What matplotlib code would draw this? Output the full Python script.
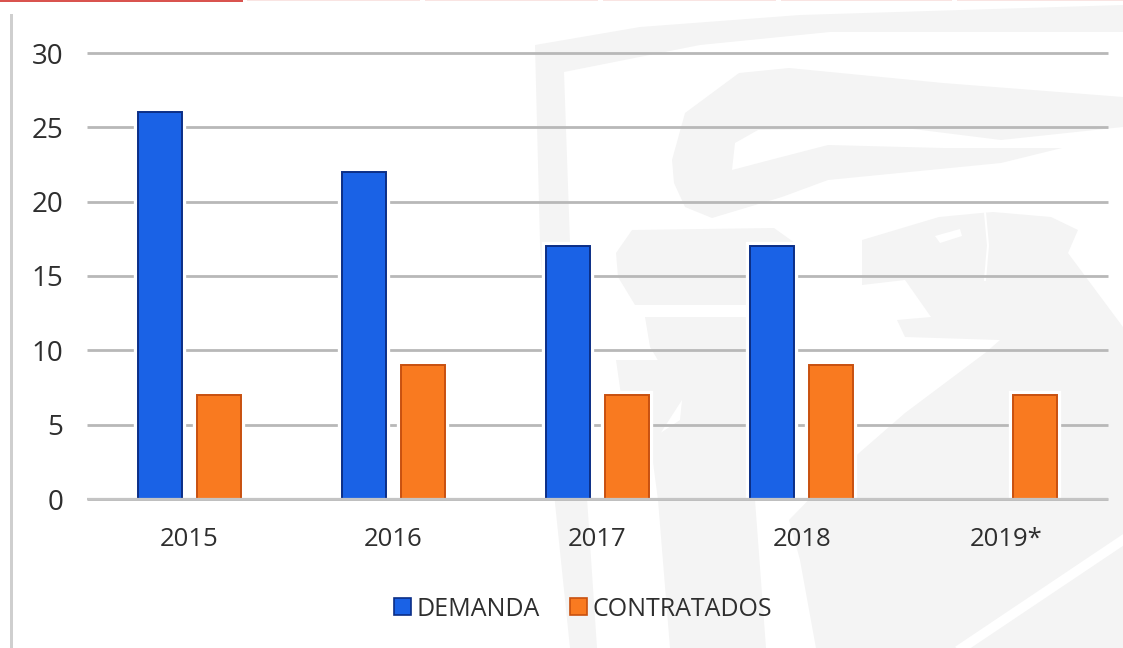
import matplotlib
matplotlib.use("Agg")
import matplotlib.pyplot as plt
import matplotlib.patheffects as pe
from matplotlib.patches import Polygon, Rectangle
import numpy as np

plt.rcParams['font.family'] = ['Open Sans', 'DejaVu Sans']

categories = ['2015', '2016', '2017', '2018', '2019*']
demanda = [26, 22, 17, 17, None]
contratados = [7, 9, 7, 9, 7]
y_ticks = [0, 5, 10, 15, 20, 25, 30]

W, H = 1123, 648
fig = plt.figure(figsize=(W / 100, H / 100), dpi=100, facecolor='white')

# page decoration (faint crest, header rule, side rule), in pixel coordinates
bg = fig.add_axes([0, 0, 1, 1], zorder=0)
bg.set_xlim(0, W)
bg.set_ylim(H, 0)
bg.axis('off')
wm = '#f4f4f4'
shapes = [
    # shield band and left stripe
    [(535, 45), (640, 27), (800, 15), (1123, 5), (1123, 32), (830, 32), (700, 45), (564, 72),
     (570, 243), (597, 648), (570, 648), (555, 503), (540, 243)],
    # wing
    [(672, 160), (685, 113), (739, 73), (789, 68), (943, 83), (1123, 97), (1123, 127), (1001, 140),
     (905, 128), (758, 130), (735, 143), (732, 170), (770, 160), (828, 145), (943, 148), (1062, 148),
     (1001, 163), (828, 180), (782, 197), (712, 218), (685, 207), (674, 183)],
    # central block
    [(616, 253), (632, 230), (774, 228), (795, 243), (795, 305), (635, 305), (618, 277)],
    [(645, 317), (795, 317), (755, 500), (766, 648), (670, 648), (658, 500), (650, 440), (680, 420),
     (682, 400), (650, 347)],
    [(616, 360), (680, 360), (682, 400), (640, 465), (626, 430)],
    # head
    [(862, 240), (939, 217), (981, 213), (993, 212), (1051, 217), (1078, 230), (1068, 253), (1123, 327),
     (1123, 648), (816, 648), (800, 560), (789, 520), (828, 480), (905, 413), (985, 353), (1000, 340),
     (905, 337), (897, 320), (931, 317), (905, 280), (862, 285)],
]
for s in shapes:
    bg.add_patch(Polygon(s, closed=True, fc=wm, ec='none'))
bg.add_patch(Polygon([(935, 236), (960, 229), (962, 236), (940, 243)], closed=True, fc='white', ec='none'))
bg.plot([1123, 962], [540, 648], color='white', lw=7)
bg.plot([985, 988, 985], [213, 245, 280], color='white', lw=1.5)
bg.add_patch(Rectangle((0, 0), 243, 1.7, fc='#d9534f', ec='none'))
for x0, x1 in [(247, 420), (425, 598), (603, 776), (781, 952), (957, 1123)]:
    bg.add_patch(Rectangle((x0, 0), x1 - x0, 1, fc='#f9e4e2', ec='none'))
bg.add_patch(Rectangle((10, 14), 3, H - 14, fc='#cfcfcf', ec='none'))

# chart
left, right, top, bottom = 87, 1108, 53, 499
ax = fig.add_axes([left / W, 1 - bottom / H, (right - left) / W, (bottom - top) / H], zorder=1)
ax.patch.set_alpha(0)
x = np.arange(len(categories))
bw, off = 0.215, 0.1445
dem = [np.nan if v is None else v for v in demanda]
halo = [pe.withStroke(linewidth=6, foreground='white')]
b1 = ax.bar(x - off, dem, bw, color='#1a62e6', edgecolor='#0b2e86', linewidth=1.4, label='DEMANDA', zorder=3)
b2 = ax.bar(x + off, contratados, bw, color='#f97a20', edgecolor='#c8500f', linewidth=1.4, label='CONTRATADOS', zorder=3)
for p in list(b1) + list(b2):
    p.set_path_effects(halo)

ax.set_xlim(-0.5, 4.5)
ax.set_ylim(0, 30)
ax.set_yticks(y_ticks)
ax.set_xticks(x, categories)
ax.grid(axis='y', color='#b8b8b8', linewidth=2.0, zorder=1)
ax.set_axisbelow(True)
ax.axhline(0, color='#c4c4c4', linewidth=1.6, zorder=4, clip_on=False, solid_capstyle='butt')
for sp in ax.spines.values():
    sp.set_visible(False)
ax.tick_params(axis='y', length=0, labelsize=20, labelcolor='#2e2e2e', pad=17)
ax.tick_params(axis='x', length=0, labelsize=18.5, labelcolor='#2e2e2e', pad=20.5)
for t in ax.get_ygridlines():
    t.set_clip_on(False)
    t.set_solid_capstyle('butt')

leg = ax.legend(loc='center', bbox_to_anchor=((583 - left) / (right - left), (bottom - 609) / (bottom - top)),
                ncol=2, frameon=False, fontsize=18, handlelength=0.68, handleheight=0.68,
                handletextpad=0.22, columnspacing=1.22, labelcolor='#2e2e2e')
for h in leg.legend_handles:
    h.set_linewidth(1.2)
    h.set_path_effects([])

fig.savefig('out.png', dpi=100)
